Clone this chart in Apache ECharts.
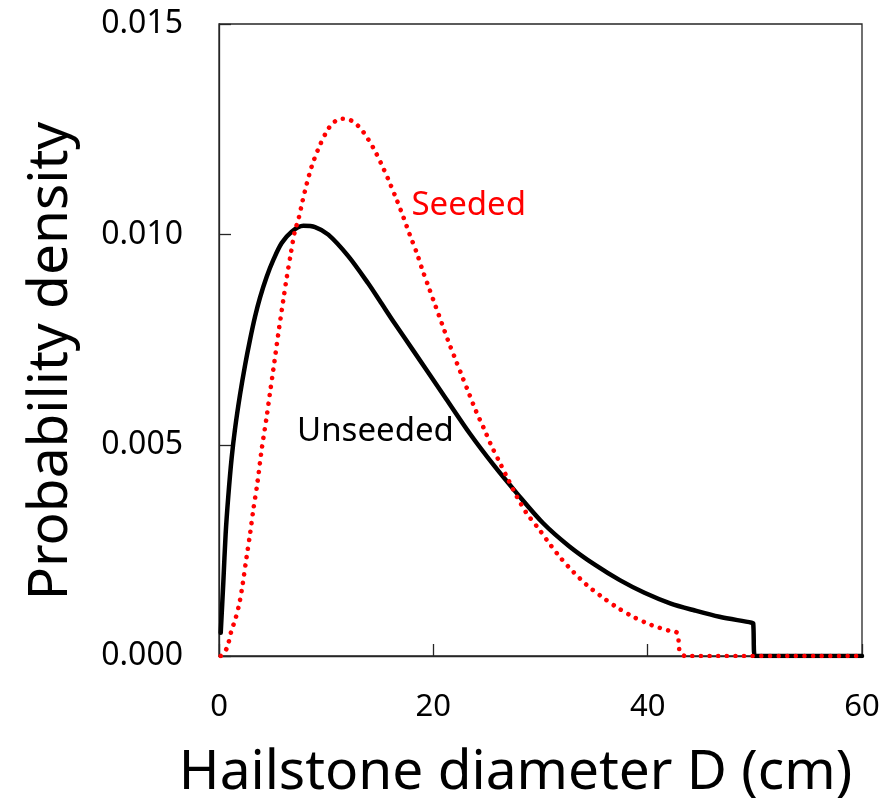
<!DOCTYPE html>
<html>
<head>
<meta charset="utf-8">
<script src="https://cdn.jsdelivr.net/npm/echarts@6/dist/echarts.min.js"></script>
<style>
html,body{margin:0;padding:0;background:#fff;}
#chart{width:888px;height:812px;}
</style>
</head>
<body>
<div id="chart"></div>
<script>
// Unseeded (solid black)
var unseededD = [0.16, 0.4, 0.62, 0.87, 1.18, 1.5, 1.96, 2.43, 2.89, 3.36, 3.82, 4.45, 5.07, 5.85, 6.78, 7.87, 8.96, 10.2, 12.06, 13.93, 15.0, 16.4, 18.1, 21.2, 23.4, 25.6, 27.8, 30.25, 32.7, 35.1, 37.4, 39.7, 42.1, 44.4, 46.7, 49.7, 49.85, 50.0, 60];
var unseededP = [0.00055, 0.00173, 0.0029, 0.0038, 0.0047, 0.0054, 0.0062, 0.0069, 0.0075, 0.00805, 0.0085, 0.009, 0.0094, 0.0098, 0.01007, 0.01021, 0.01018, 0.0100, 0.00949, 0.00884, 0.00843, 0.00789, 0.00726, 0.0061, 0.00528, 0.00454, 0.00386, 0.00315, 0.0026, 0.00216, 0.0018, 0.0015, 0.00125, 0.00108, 0.00093, 0.00079, 0.00077, 0, 0];
// Seeded (red dotted)
var seededD = [0.16, 0.72, 1.18, 1.5, 1.9, 2.2, 2.58, 2.9, 3.2, 3.58, 3.98, 4.45, 4.76, 5.07, 5.54, 6.0, 6.3, 6.7, 7.09, 7.4, 7.77, 8.18, 8.65, 9.27, 10.05, 10.57, 11.3, 12.16, 12.9, 13.46, 14.4, 15.18, 15.9, 16.58, 17.2, 17.8, 18.45, 19.0, 19.6, 20.2, 20.8, 21.4, 22.05, 22.7, 23.3, 24.0, 24.7, 25.4, 26.2, 27.0, 27.8, 28.7, 29.8, 30.8, 31.9, 33.05, 34.3, 35.7, 37.1, 38.65, 40.3, 42.0, 42.75, 42.9, 43.0, 43.5, 60];
var seededP = [0, 0.00018, 0.00062, 0.00085, 0.00125, 0.00169, 0.00236, 0.0029, 0.00347, 0.0041, 0.0049, 0.00568, 0.00625, 0.0068, 0.00766, 0.00845, 0.00895, 0.00955, 0.0101, 0.01035, 0.01077, 0.0112, 0.01162, 0.01204, 0.01245, 0.01263, 0.01275, 0.01273, 0.0126, 0.01244, 0.01206, 0.01166, 0.01125, 0.01083, 0.01042, 0.0100, 0.00957, 0.00915, 0.00873, 0.00831, 0.00789, 0.00747, 0.00705, 0.00663, 0.00625, 0.0058, 0.00541, 0.005, 0.00459, 0.00418, 0.00378, 0.00339, 0.00303, 0.00268, 0.00232, 0.002, 0.00169, 0.00141, 0.00116, 0.00093, 0.00074, 0.0006, 0.00055, 0.00032, 0.0001, 0, 0];
// Axis ticks
var xTicks = [0, 20, 40, 60];
var yTicks = [0.000, 0.005, 0.010, 0.015];
// Annotations (data coordinates of text centre)
var noteText = ['Seeded', 'Unseeded'];
var noteD = [23.3, 14.6];
var noteP = [0.01069, 0.00532];
var noteColor = ['#ff0000', '#000000'];

function pairs(a, b){ return a.map(function(v,i){ return [v, b[i]]; }); }

var FONT = 'Noto Sans';
var axisColor = '#262626';
var chart = echarts.init(document.getElementById('chart'), null, {renderer:'canvas'});
chart.setOption({
  animation: false,
  backgroundColor: '#ffffff',
  grid: {left: 219, right: 26, top: 24, bottom: 156, show: true, borderColor: axisColor, borderWidth: 1.3, containLabel: false},
  xAxis: {
    type: 'value', min: xTicks[0], max: xTicks[xTicks.length-1], interval: 20,
    name: 'Hailstone diameter D (cm)', nameLocation: 'middle', nameGap: 90,
    nameTextStyle: {fontFamily: FONT, fontSize: 55, color: '#000', padding: [0, 50, 0, 0]},
    axisLine: {show: true, lineStyle: {color: axisColor, width: 1.3}},
    axisTick: {show: true, inside: true, length: 12, lineStyle: {color: axisColor, width: 1.3}},
    axisLabel: {fontFamily: FONT, fontSize: 31, color: '#000', margin: 36},
    splitLine: {show: false}
  },
  yAxis: {
    type: 'value', min: yTicks[0], max: yTicks[yTicks.length-1], interval: 0.005,
    name: 'Probability density', nameLocation: 'middle', nameGap: 140, nameRotate: 90,
    nameTextStyle: {fontFamily: FONT, fontSize: 55, color: '#000', padding: [0, 42, 0, 0]},
    axisLine: {show: true, lineStyle: {color: axisColor, width: 1.3}},
    axisTick: {show: true, inside: true, length: 12, lineStyle: {color: axisColor, width: 1.3}},
    axisLabel: {fontFamily: FONT, fontSize: 32, color: '#000', margin: 36, formatter: function(v){ return v.toFixed(3); }},
    splitLine: {show: false}
  },
  series: [
    {
      type: 'line', name: 'Unseeded', data: pairs(unseededD, unseededP),
      showSymbol: false, smooth: 0.3,
      lineStyle: {color: '#000', width: 4.5, cap: 'round', join: 'round'}, z: 3
    },
    {
      type: 'line', name: 'Seeded', data: pairs(seededD, seededP),
      showSymbol: false, smooth: 0.3,
      lineStyle: {color: '#ff0000', width: 4.6, type: [0.01, 8.6], cap: 'round'}, z: 4
    }
  ]
});
chart.setOption({
  graphic: noteText.map(function(t, i){
    var p = chart.convertToPixel({gridIndex: 0}, [noteD[i], noteP[i]]);
    return {type: 'text', x: p[0], y: p[1], z: 10,
      style: {text: t, fill: noteColor[i], font: '33px "' + FONT + '"', textAlign: 'center', textVerticalAlign: 'middle'}};
  })
});
</script>
</body>
</html>
